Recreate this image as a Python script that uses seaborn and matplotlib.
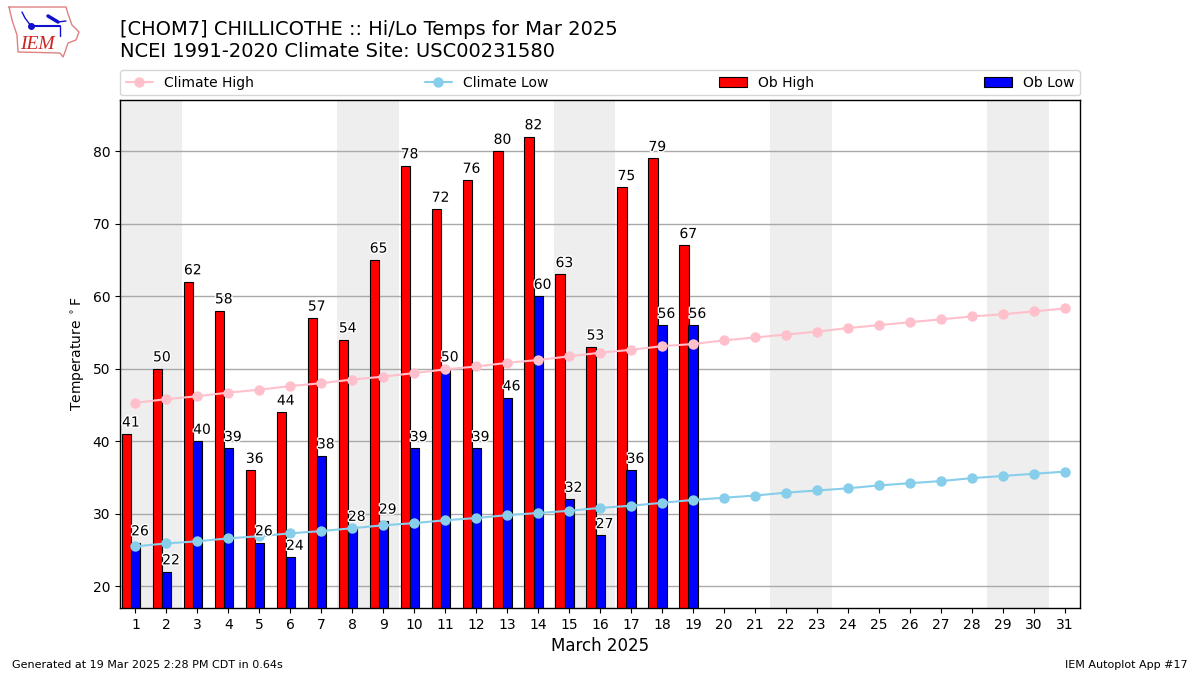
import matplotlib
matplotlib.use("Agg")
import matplotlib.pyplot as plt
import matplotlib.patheffects as pe
import numpy as np
import seaborn as sns

days = np.arange(1, 32)
ob_days = np.arange(1, 20)
ob_high = [41, 50, 62, 58, 36, 44, 57, 54, 65, 78, 72, 76, 80, 82, 63, 53, 75, 79, 67]
ob_low = [26, 22, 40, 39, 26, 24, 38, 28, 29, 39, 50, 39, 46, 60, 32, 27, 36, 56, 56]
climate_high = [45.3, 45.8, 46.2, 46.7, 47.1, 47.6, 48.0, 48.5, 48.9, 49.4, 49.9,
                50.3, 50.8, 51.2, 51.7, 52.2, 52.6, 53.1, 53.4, 53.9, 54.3, 54.7,
                55.1, 55.6, 56.0, 56.4, 56.8, 57.2, 57.5, 57.9, 58.3]
climate_low = [25.5, 25.9, 26.2, 26.6, 26.9, 27.3, 27.6, 28.0, 28.4, 28.7, 29.1,
               29.4, 29.8, 30.1, 30.4, 30.8, 31.1, 31.5, 31.9, 32.2, 32.5, 32.9,
               33.2, 33.5, 33.9, 34.2, 34.5, 34.9, 35.2, 35.5, 35.8]
weekends = [1, 8, 15, 22, 29]

HIGH_OFFSET = -0.29
LOW_OFFSET = 0.005


def draw_logo(fig):
    """Rough sketch of the IEM logo in the top left corner."""
    ax = fig.add_axes([0, 1 - 60 / 675, 80 / 1200, 60 / 675])
    ax.set_xlim(0, 80)
    ax.set_ylim(60, 0)
    ax.axis("off")
    ax.plot([9, 66, 68, 72, 79, 76, 68, 65, 63, 60, 18, 17, 12, 9],
            [7, 7, 14, 25, 32, 40, 43, 52, 57, 53, 52, 35, 20, 7],
            color="#e08080", lw=1)
    ax.plot([22, 25, 31], [12, 18, 26], color="#1010d0", lw=1)
    ax.plot([31, 60], [26, 26], color="#1010d0", lw=1.5)
    ax.plot([31], [26], "o", color="#1010d0", ms=4)
    ax.plot([48, 58], [16, 22], color="#1010d0", lw=2.5)
    ax.plot([58, 66], [22, 21], color="#1010d0", lw=1)
    ax.plot([60, 60], [26, 36], color="#1010d0", lw=1)
    ax.text(20, 53, "IEM", color="#d02020", fontsize=14, style="italic",
            family="Liberation Serif", va="bottom")


def draw_bars(ax):
    """Draws the observed high and low bars with their value labels."""
    sns.barplot(x=ob_days + HIGH_OFFSET, y=ob_high, native_scale=True, width=0.3,
                color="red", saturation=1, edgecolor="black", linewidth=0.8,
                label="Ob High", zorder=2, ax=ax)
    sns.barplot(x=ob_days + LOW_OFFSET, y=ob_low, native_scale=True, width=0.3,
                color="blue", saturation=1, edgecolor="black", linewidth=0.8,
                label="Ob Low", zorder=2, ax=ax)
    stroke = [pe.withStroke(linewidth=2, foreground="white")]
    for day, high, low in zip(ob_days, ob_high, ob_low):
        ax.text(day + HIGH_OFFSET + 0.14, high + 0.6, str(high), ha="center", va="bottom",
                fontsize=10, path_effects=stroke, zorder=5)
        ax.text(day + LOW_OFFSET + 0.14, low + 0.6, str(low), ha="center", va="bottom",
                fontsize=10, path_effects=stroke, zorder=5)


sns.set_style("white")
plt.rcParams["font.family"] = ["DejaVu Sans"]
plt.rcParams["mathtext.default"] = "regular"
for key in ["text.color", "axes.labelcolor", "xtick.color", "ytick.color"]:
    plt.rcParams[key] = "black"

fig = plt.figure(figsize=(12, 6.75), dpi=100)
ax = fig.add_axes([0.1, 0.0993, 0.8, 0.752])

for start in weekends:
    ax.axvspan(start - 0.5, start + 1.5, color="#eeeeee", lw=0, zorder=0)

draw_bars(ax)
sns.lineplot(x=days, y=climate_high, color="pink", marker="o", markersize=7.5,
             markeredgewidth=0, label="Climate High", zorder=4, ax=ax)
sns.lineplot(x=days, y=climate_low, color="skyblue", marker="o", markersize=7.5,
             markeredgewidth=0, label="Climate Low", zorder=4, ax=ax)

ax.set_xlim(0.5, 31.5)
ax.set_ylim(17, 87)
ax.set_xticks(days)
ax.set_xticklabels([str(d) for d in days])
ax.set_yticks(np.arange(20, 90, 10))
ax.tick_params(axis="both", length=3.5, width=0.8, left=True, bottom=True, labelsize=10)
ax.yaxis.grid(True, color="#aaaaaa", lw=1, zorder=1)
ax.xaxis.grid(False)
ax.set_axisbelow(True)
for spine in ax.spines.values():
    spine.set_color("black")
    spine.set_linewidth(1)
ax.set_xlabel("March 2025", fontsize=12)
ax.set_ylabel("Temperature $^\\circ$F", fontsize=10)

handles, labels = ax.get_legend_handles_labels()
order = [labels.index(n) for n in ["Climate High", "Climate Low", "Ob High", "Ob Low"]]
ax.legend([handles[i] for i in order], [labels[i] for i in order], ncol=4, mode="expand",
          loc="lower left", bbox_to_anchor=(0, 1.01, 1, 0.05), borderaxespad=0, fontsize=10)

fig.text(0.1, 0.942, "[CHOM7] CHILLICOTHE :: Hi/Lo Temps for Mar 2025", fontsize=14, va="bottom")
fig.text(0.1, 0.91, "NCEI 1991-2020 Climate Site: USC00231580", fontsize=14, va="bottom")
fig.text(0.01, 0.01, "Generated at 19 Mar 2025 2:28 PM CDT in 0.64s", fontsize=8)
fig.text(0.99, 0.01, "IEM Autoplot App #17", fontsize=8, ha="right")
draw_logo(fig)

fig.savefig("out.png", dpi=100)
